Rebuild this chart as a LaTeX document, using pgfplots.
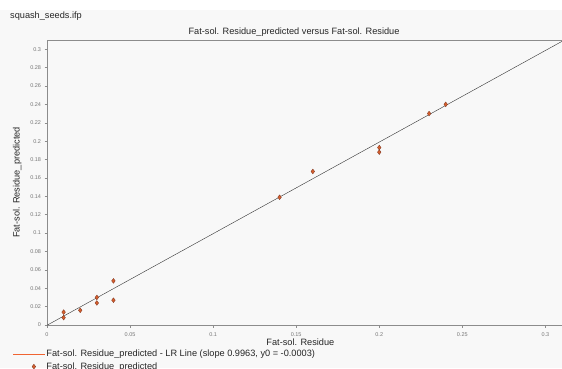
\documentclass[border=0pt]{standalone}
\usepackage{pgfplots}
\pgfplotsset{compat=1.18}
\usepackage{fontspec}
\setmainfont{Liberation Sans}
\definecolor{bg}{RGB}{248,248,248}
\definecolor{axgray}{RGB}{140,140,140}
\definecolor{ticktext}{RGB}{120,120,120}
\definecolor{mk}{RGB}{215,95,45}
\definecolor{mkd}{RGB}{120,50,30}
\definecolor{lr}{RGB}{240,100,50}
\begin{document}
\begin{tikzpicture}[x=1pt,y=1pt]
\fill[bg] (0pt,0pt) rectangle (562pt,358pt);
\node[anchor=base west,inner sep=0pt,font=\fontsize{9.2}{11}\selectfont,text=black!85] at (10pt,349pt) {squash\_seeds.ifp};
\node[anchor=base,inner sep=0pt,font=\fontsize{9.2}{11}\selectfont,text=black!85] at (294pt,334pt) {Fat-sol. Residue\_predicted versus Fat-sol. Residue};
\begin{axis}[
  at={(47pt,43pt)}, anchor=origin,
  scale only axis, width=515pt, height=285pt,
  xmin=0, xmax=0.31, ymin=0, ymax=0.31,
  axis line style={axgray},
  axis x line*=bottom, axis y line*=left,
  xtick={0,0.05,...,0.3}, ytick={0,0.02,...,0.3},
  tick style={axgray, thin}, tick align=outside, major tick length=2.5pt,
  tick label style={font=\fontsize{5.5}{6}\selectfont, text=ticktext},
  xticklabel style={yshift=-2pt},
  /pgf/number format/assume math mode=true,
  /pgf/number format/fixed,
  xlabel={Fat-sol. Residue}, ylabel={Fat-sol. Residue\_predicted},
  label style={font=\fontsize{9.2}{11}\selectfont, text=black!85},
  xlabel style={at={(axis description cs:0.492,0)}, anchor=north, yshift=-10pt},
  ylabel style={at={(axis description cs:-0.058,0.5)}, anchor=center},
  legend style={draw=none, fill=none, at={(axis description cs:-0.066,-0.083)}, anchor=north west,
    font=\fontsize{9.2}{11}\selectfont, text=black!85, row sep=2.5pt, inner sep=0pt,
    nodes={inner sep=1pt}},
  legend cell align=left,
  clip=true,
]
\draw[axgray] (rel axis cs:0,1) -- (rel axis cs:1.02,1);
\addplot[black!80, thin,
  legend image code/.code={\draw[lr, thin] (-0.42cm,0pt) -- (0.7cm,0pt);}]
  coordinates {(0,-0.0003) (0.31,0.308553)};
\addlegendentry{Fat-sol. Residue\_predicted - LR Line (slope 0.9963, y0 = -0.0003)}
\addplot[only marks, mark=diamond*, mark size=2.4pt, mark options={fill=mk, draw=mkd, line width=0.3pt}]
  coordinates {
  (0.01,0.014) (0.01,0.008) (0.02,0.016) (0.03,0.030) (0.03,0.024)
  (0.04,0.048) (0.04,0.027) (0.14,0.139) (0.16,0.167) (0.20,0.193)
  (0.20,0.188) (0.23,0.230) (0.24,0.240)
  };
\addlegendentry{Fat-sol. Residue\_predicted}
\end{axis}
\pgfresetboundingbox
\path[use as bounding box] (0pt,0pt) rectangle (562pt,368pt);
\end{tikzpicture}
\end{document}
